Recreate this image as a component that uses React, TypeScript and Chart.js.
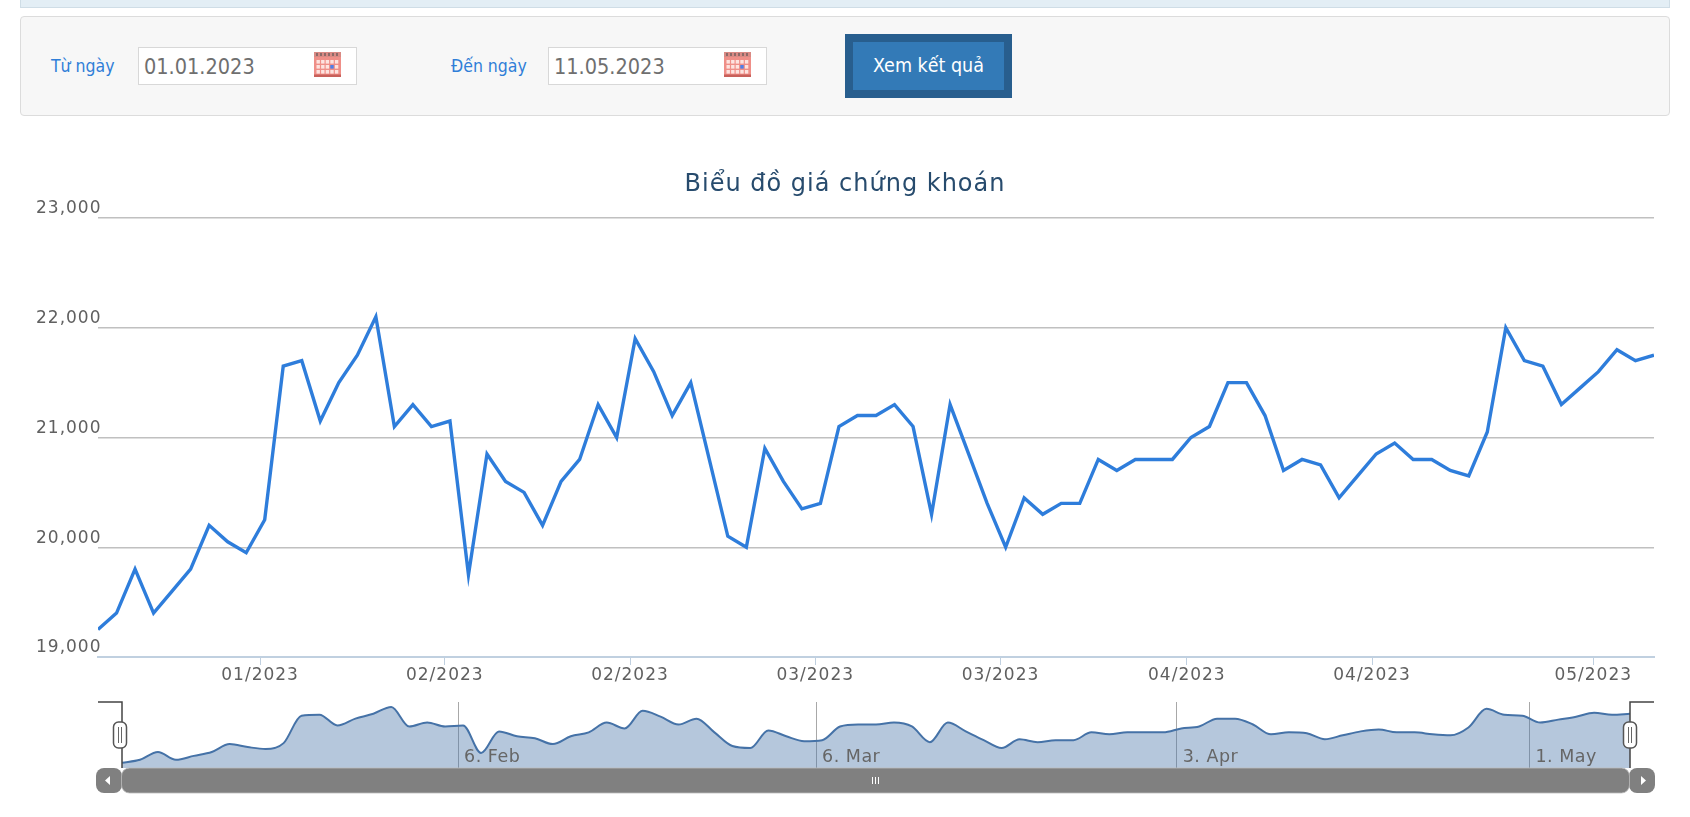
import React, { useEffect, useRef } from "react";
import { Chart, registerables } from "chart.js";

Chart.register(...registerables);

const prices = [
  19250, 19400, 19800, 19400, 19600, 19800, 20200, 20050, 19950, 20250,
  21650, 21700, 21150, 21500, 21750, 22100, 21100, 21300, 21100, 21150,
  19750, 20850, 20600, 20500, 20200, 20600, 20800, 21300, 21000, 21900,
  21600, 21200, 21500, 20800, 20100, 20000, 20900, 20600, 20350, 20400,
  21100, 21200, 21200, 21300, 21100, 20300, 21300, 20850, 20400, 20000,
  20450, 20300, 20400, 20400, 20800, 20700, 20800, 20800, 20800, 21000,
  21100, 21500, 21500, 21200, 20700, 20800, 20750, 20450, 20650, 20850,
  20950, 20800, 20800, 20700, 20650, 21050, 22000, 21700, 21650, 21300,
  21450, 21600, 21800, 21700, 21750,
];
const pointIndex = prices.map((_, i) => i);
const monthTickPositions = [8.75, 18.72, 28.72, 38.72, 48.72, 58.78, 68.78, 80.72];
const monthTickLabels = ["01/2023", "02/2023", "02/2023", "03/2023", "03/2023", "04/2023", "04/2023", "05/2023"];
const priceTicks = [19000, 20000, 21000, 22000, 23000];
const navTickPositions = [18.72, 38.66, 58.75, 78.4];
const navTickLabels = ["6. Feb", "6. Mar", "3. Apr", "1. May"];
const navRange = [18980, 22350];
const chartTitle = "Biểu đồ giá chứng khoán";

const FONT = "'DejaVu Sans', Verdana, sans-serif";
const NARROW = "'DejaVu Sans Condensed', 'DejaVu Sans', sans-serif";

function fixedTicks(positions: number[]) {
  return (scale: any) => {
    scale.ticks = positions.map((value) => ({ value }));
  };
}

function labelFor(positions: number[], labels: string[]) {
  return (value: number | string) => {
    const i = positions.indexOf(Number(value));
    return i >= 0 ? labels[i] : "";
  };
}

const spacing = (px: string) => ({
  id: "spacing",
  beforeDraw(chart: any) {
    chart.ctx.letterSpacing = px;
  },
});

function Calendar({ left }: { left: number }) {
  const cells = [];
  for (let r = 0; r < 3; r++) {
    for (let c = 0; c < 5; c++) {
      const blue = r === 1 && c === 3;
      cells.push(
        <rect key={r + "-" + c} x={2.5 + c * 4.6} y={8 + r * 5} width={3.4} height={3.6} fill={blue ? "#4f7fe8" : "#fde3df"} />
      );
    }
  }
  return (
    <svg width={27} height={25} style={{ position: "absolute", left, top: 52 }}>
      <rect x={0} y={0} width={27} height={25} fill="#ef8f88" />
      <rect x={0} y={0} width={27} height={5} fill="#d98a84" />
      {[2, 6, 10, 14, 18, 22].map((x) => (
        <rect key={x} x={x} y={1} width={2} height={3} fill="#8c6a68" />
      ))}
      <rect x={0} y={22.5} width={27} height={2.5} fill="#c8605a" />
      {cells}
    </svg>
  );
}

function DateField({ label, value, labelLeft, left }: { label: string; value: string; labelLeft: number; left: number }) {
  return (
    <>
      <div style={{ position: "absolute", left: labelLeft, top: 56, font: `17.5px ${NARROW}`, color: "#2F7ED8", whiteSpace: "nowrap" }}>{label}</div>
      <div style={{ position: "absolute", left, top: 47, width: 219, height: 38, boxSizing: "border-box", background: "#fff", border: "1px solid #d8d8d8" }} />
      <div style={{ position: "absolute", left: left + 6, top: 54, font: `21.5px ${NARROW}`, color: "#6f6f6f", whiteSpace: "nowrap" }}>{value}</div>
      <Calendar left={left + 176} />
    </>
  );
}

export default function App() {
  const mainRef = useRef<HTMLCanvasElement>(null);
  const navRef = useRef<HTMLCanvasElement>(null);

  useEffect(() => {
    const main = new Chart(mainRef.current!, {
      type: "line",
      plugins: [spacing("1px")],
      data: {
        labels: pointIndex,
        datasets: [
          {
            data: pointIndex.map((i) => ({ x: i, y: prices[i] })),
            borderColor: "#2E7DDB",
            borderWidth: 3.4,
            pointRadius: 0,
            tension: 0,
            fill: false,
          },
        ],
      },
      options: {
        animation: false,
        responsive: false,
        layout: { padding: { left: 36, right: 36, top: 0, bottom: 0 } },
        plugins: {
          legend: { display: false },
          tooltip: { enabled: false },
          title: {
            display: true,
            text: chartTitle,
            color: "#274B6D",
            font: { family: FONT, size: 24, weight: "normal", lineHeight: 1.2 },
            padding: { top: 170, bottom: 19.2 },
          },
        },
        scales: {
          x: {
            type: "linear",
            min: 0,
            max: pointIndex.length - 1,
            afterBuildTicks: fixedTicks(monthTickPositions),
            afterFit: (s: any) => { s.height = 160; },
            border: { color: "#C0D0E0", width: 2 },
            grid: { drawOnChartArea: false, color: "#C0D0E0", tickLength: 8, tickWidth: 1 },
            ticks: {
              autoSkip: false,
              maxRotation: 0,
              color: "#606060",
              padding: 0,
              font: { family: FONT, size: 17 },
              callback: labelFor(monthTickPositions, monthTickLabels),
            },
          },
          y: {
            type: "linear",
            min: priceTicks[0],
            max: priceTicks[priceTicks.length - 1],
            afterBuildTicks: fixedTicks(priceTicks),
            afterFit: (s: any) => { s.width = 62; },
            border: { display: false },
            grid: { color: "#C0C0C0", lineWidth: 1.5, drawTicks: false },
            ticks: {
              color: "#606060",
              mirror: true,
              padding: -62,
              labelOffset: -9,
              font: { family: FONT, size: 17 },
              callback: (v: number | string) => Number(v).toLocaleString("en-US"),
            },
          },
        },
      },
    });

    const nav = new Chart(navRef.current!, {
      type: "line",
      plugins: [spacing("0.5px")],
      data: {
        labels: pointIndex,
        datasets: [
          {
            data: pointIndex.map((i) => ({ x: i, y: prices[i] })),
            borderColor: "#4572A7",
            borderWidth: 2,
            backgroundColor: "rgba(69,114,167,0.4)",
            pointRadius: 0,
            cubicInterpolationMode: "monotone",
            fill: "start",
          },
        ],
      },
      options: {
        animation: false,
        responsive: false,
        layout: { padding: { left: 122, right: 60, top: 12, bottom: 0 } },
        plugins: { legend: { display: false }, tooltip: { enabled: false }, title: { display: false } },
        scales: {
          x: {
            type: "linear",
            min: 0,
            max: pointIndex.length - 1,
            afterBuildTicks: fixedTicks(navTickPositions),
            afterFit: (s: any) => { s.height = 49; },
            border: { display: false },
            grid: { color: "#A8A8A8", lineWidth: 1, drawTicks: false },
            ticks: {
              autoSkip: false,
              maxRotation: 0,
              align: "start",
              mirror: true,
              color: "#666666",
              padding: 0,
              labelOffset: 6,
              z: 1,
              font: { family: FONT, size: 17.5 },
              callback: labelFor(navTickPositions, navTickLabels),
            },
          },
          y: { display: false, type: "linear", min: navRange[0], max: navRange[1] },
        },
      },
    });

    return () => {
      main.destroy();
      nav.destroy();
    };
  }, []);

  return (
    <div style={{ position: "fixed", left: 0, top: 0, width: 1690, height: 817, overflow: "hidden", background: "#fff" }}>
      <div style={{ position: "absolute", left: 20, top: -2, width: 1650, height: 10, boxSizing: "border-box", background: "#E3EEF5", border: "1px solid #cfdde6" }} />
      <div style={{ position: "absolute", left: 20, top: 16, width: 1650, height: 100, boxSizing: "border-box", background: "#F7F7F7", border: "1px solid #dcdcdc", borderRadius: 4 }} />
      <DateField label="Từ ngày" value="01.01.2023" labelLeft={51} left={138} />
      <DateField label="Đến ngày" value="11.05.2023" labelLeft={451} left={548} />
      <div style={{ position: "absolute", left: 845, top: 34, width: 167, height: 64, boxSizing: "border-box", background: "#337AB7", border: "8px solid #285E8E", color: "#fff", font: `19.5px ${NARROW}`, textAlign: "center", lineHeight: "48px", whiteSpace: "nowrap" }}>Xem kết quả</div>

      <canvas ref={mainRef} width={1690} height={817} style={{ position: "absolute", left: 0, top: 0 }} />
      <canvas ref={navRef} width={1690} height={127} style={{ position: "absolute", left: 0, top: 690 }} />

      <svg width={1690} height={817} style={{ position: "absolute", left: 0, top: 0 }}>
        <path d="M98 702H122V768M1654 702H1630V768" fill="none" stroke="#444" strokeWidth={1.5} />
        <rect x={96} y={768} width={26} height={25} rx={8} fill="#808080" />
        <rect x={1629} y={768} width={26} height={25} rx={8} fill="#808080" />
        <rect x={121.5} y={768} width={1508} height={25} rx={8} fill="#808080" stroke="#bdbdbd" strokeWidth={0.8} />
        <path d="M105 780.5L110 776V785Z M1646 780.5L1641 776V785Z" fill="#fff" />
        <path d="M872.5 777V784M875.5 777V784M878.5 777V784" stroke="#fff" strokeWidth={1} />
        {[120, 1630].map((x) => (
          <g key={x}>
            <rect x={x - 6.5} y={722} width={13} height={26} rx={5} fill="#fff" stroke="#555" strokeWidth={1.5} />
            <path d={`M${x - 1.5} 727V743M${x + 1.5} 727V743`} stroke="#666" strokeWidth={1} />
          </g>
        ))}
      </svg>
    </div>
  );
}
